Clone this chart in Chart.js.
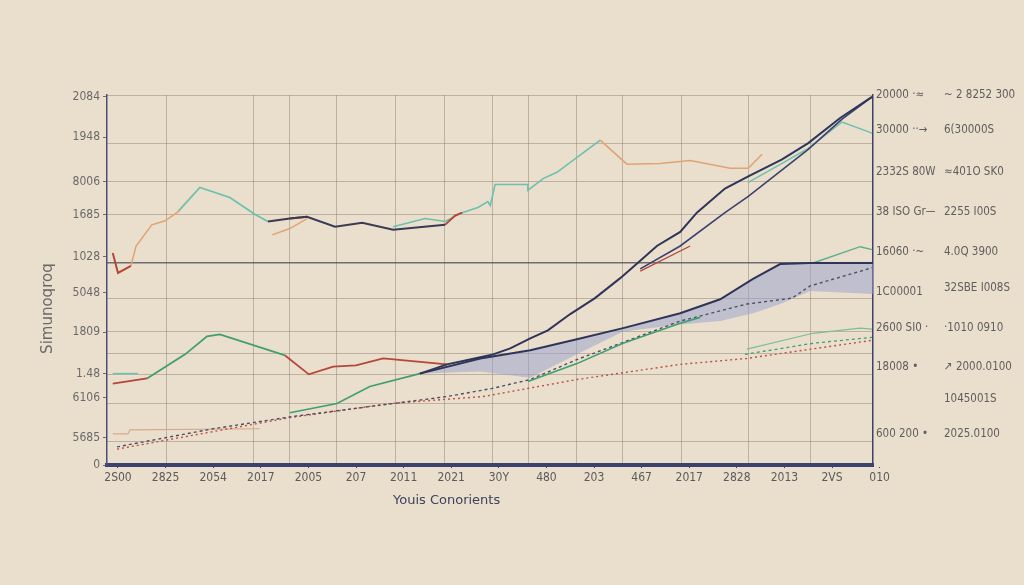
<!DOCTYPE html>
<html>
<head>
<meta charset="utf-8">
<script src="https://cdn.jsdelivr.net/npm/chart.js@4/dist/chart.umd.min.js"></script>
<style>
  html, body { margin: 0; padding: 0; background: #eadecc; }
  #wrap { width: 1024px; height: 585px; }
</style>
</head>
<body>
<div id="wrap"><canvas id="c" width="1024" height="585"></canvas></div>
<script>
// ---- categories / tick labels ----
const xLabels = ["2S00","2825","2054","2017","2005","207","2011","2021","30Y","480","203","467","2017","2828","2013","2VS","010"];
const leftTickValues = [99.5, 88.6, 76.6, 67.7, 56.3, 46.5, 35.9, 24.7, 18.2, 7.3, 0];
const leftTickLabels = ["2084","1948","8006","1685","1028","5048","1809","1.48","6106","5685","0"];
const rightTickValuesA = [100, 90.5, 79.3, 68.5, 57.6, 46.7, 37.0, 26.6, 17.7, 8.4];
const rightTickLabelsA = ["20000 \u00b7\u2248", "30000 \u00b7\u00b7\u2192", "2332S 80W", "38 ISO Gr\u2014", "16060 \u00b7~", "1C00001", "2600 SI0 \u00b7", "18008 \u2022", "", "600 200 \u2022"];
const rightTickValuesB = [100, 90.5, 79.3, 68.5, 57.6, 47.8, 37.0, 26.6, 17.7, 8.4];
const rightTickLabelsB = ["~ 2 8252 300", "6(30000S", "\u2248401O SK0", "2255 I00S", "4.0Q 3900", "32SBE I008S", "\u00b71010 0910", "\u2197 2000.0100", "1045001S", "2025.0100"];
const gridX = [1.01, 2.84, 3.61, 4.58, 5.82, 6.85, 7.86, 8.63, 9.64, 10.59, 11.83, 13.24, 14.54];
const gridY = [100, 87.0, 76.6, 67.7, 54.6, 45.1, 36.1, 30.2, 24.5, 16.6, 6.25];
const yTitle = "Simunoqroq";
const xTitle = "Youis Conorients";

// ---- series values (x = category position, y = value) ----
const navyAX = [6.34, 6.91, 7.61, 7.88, 8.24, 8.66, 9.03, 9.50, 10.02, 10.55, 10.97, 11.32, 11.81, 12.16, 12.75, 13.24, 13.95, 14.50, 15.17, 15.84];
const navyAY = [24.7, 27.2, 29.1, 29.9, 31.5, 34.2, 36.4, 40.8, 45.1, 50.5, 55.2, 59.2, 63.0, 68.2, 74.7, 78.0, 82.6, 87.0, 93.8, 99.5];
const navyBX = [10.97, 11.81, 12.75, 13.24, 14.50, 15.21, 15.84];
const navyBY = [53.0, 59.2, 68.2, 72.6, 85.3, 93.5, 99.5];
const navyCX = [6.34, 7.61, 8.66, 9.64, 10.61, 11.81, 12.65, 13.34, 13.91, 14.54, 15.86];
const navyCY = [24.7, 28.8, 31.0, 34.0, 37.0, 41.0, 44.8, 50.3, 54.3, 54.6, 54.6];
const bandLowY = [24.7, 25.3, 23.6, 29.9, 36.1, 38.0, 38.9, 41.0, 43.5, 47.0, 46.2];
const tealURX = [13.24, 13.95, 14.50, 15.21, 15.84];
const tealURY = [76.4, 81.5, 85.6, 92.7, 89.7];
const redURX = [10.97, 12.02];
const redURY = [52.4, 59.2];
const navyTopX = [3.15, 3.61, 3.97, 4.56, 5.13, 5.78, 6.87];
const navyTopY = [65.8, 66.6, 67.1, 64.4, 65.5, 63.6, 64.9];
const redTopX = [-0.11, 0, 0.27, 0.3, 3.61, 3.97, 4.0, 6.87, 7.08, 7.23];
const redTopY = [57.3, 51.9, 53.8, null, 66.6, 67.1, null, 64.9, 67.4, 68.2];
const orangeLX = [0.27, 0.38, 0.71, 0.99, 1.20, 1.30, 1.4, 3.24, 3.61, 3.97];
const orangeLY = [53.8, 59.2, 64.9, 66.0, 67.9, 68.8, null, 62.2, 63.9, 66.6];
const tealTopX = [1.26, 1.72, 2.35, 2.88, 3.15];
const tealTopY = [68.5, 75.0, 72.3, 67.7, 65.8];
const tealMidX = [5.78, 6.45, 6.87, 7.23, 7.56, 7.77, 7.82, 7.92, 8.61, 8.61, 8.93, 9.22, 10.13];
const tealMidY = [64.4, 66.6, 65.8, 68.2, 69.6, 71.2, 70.1, 75.8, 75.8, 74.2, 77.4, 79.1, 87.8];
const orangeRX = [10.13, 10.69, 11.39, 12.02, 12.86, 13.24, 13.53];
const orangeRY = [87.8, 81.3, 81.5, 82.3, 80.2, 80.2, 84.0];
const greenLLX = [0.61, 1.41, 1.87, 2.14, 3.51];
const greenLLY = [23.4, 29.9, 34.8, 35.3, 29.6];
const redLLX = [-0.11, 0.61, 1.0, 3.51, 4.01, 4.52, 5.0, 5.57, 6.91];
const redLLY = [22.0, 23.4, null, 29.6, 24.5, 26.6, 26.9, 28.8, 27.2];
const tealShortX = [-0.11, 0.42];
const tealShortY = [24.7, 24.7];
const greenRiseX = [3.61, 4.60, 5.29, 6.34, 7.0, 8.61, 9.64, 10.61, 11.81, 12.23];
const greenRiseY = [14.1, 16.6, 21.2, 24.7, null, 22.6, 27.4, 32.9, 38.3, 39.9];
const tealThinX = [13.21, 14.60, 15.59, 15.84];
const tealThinY = [31.3, 35.6, 37.0, 36.7];
const greenURX = [14.60, 15.59, 15.84];
const greenURY = [54.6, 59.0, 58.2];
const dashNavyX = [-0.02, 2.0, 3.61, 6.91, 7.86, 8.66, 9.64, 11.81, 13.21, 14.16, 14.54, 15.84];
const dashNavyY = [4.9, 9.8, 13.0, 18.5, 20.7, 23.1, 28.5, 38.9, 43.5, 45.1, 48.4, 53.3];
const dashGreenX = [13.17, 14.6, 15.84];
const dashGreenY = [29.9, 32.9, 34.5];
const dotRedX = [-0.02, 3.61, 5.71, 7.67, 9.64, 11.81, 13.21, 15.84];
const dotRedY = [4.3, 12.8, 16.6, 18.5, 23.1, 27.2, 28.8, 33.7];
const tanX = [-0.11, 0.21, 0.25, 2.98];
const tanY = [8.4, 8.4, 9.5, 9.8];

const pts = (xs, ys) => xs.map((x, i) => ({ x: x, y: ys[i] }));

const NAVY = '#2f3558', TEAL = '#6cc0ad', GREEN = '#3f9f6e', RED = '#b5463a', ORANGE = '#e2a373';
function line(data, color, width, dash) {
  return { data: data, borderColor: color, borderWidth: width, borderDash: dash || [], pointRadius: 0, fill: false, tension: 0, spanGaps: false };
}

const datasets = [
  line(pts(navyAX, navyAY), NAVY, 2),
  line(pts(navyBX, navyBY), '#3a4170', 1.6),
  line(pts(navyCX, navyCY), NAVY, 2),
  line(pts(tealURX, tealURY), TEAL, 1.5),
  line(pts(redURX, redURY), RED, 1.3),
  line(pts(navyTopX, navyTopY), '#3a3a55', 2),
  line(pts(redTopX, redTopY), RED, 2),
  line(pts(orangeLX, orangeLY), ORANGE, 1.5),
  line(pts(tealTopX, tealTopY), TEAL, 1.8),
  line(pts(tealMidX, tealMidY), TEAL, 1.6),
  line(pts(orangeRX, orangeRY), ORANGE, 1.6),
  line(pts(greenLLX, greenLLY), GREEN, 1.8),
  line(pts(redLLX, redLLY), RED, 1.8),
  line(pts(tealShortX, tealShortY), TEAL, 1.5),
  line(pts(greenRiseX, greenRiseY), GREEN, 1.6),
  line(pts(tealThinX, tealThinY), '#7cbf94', 1.2),
  line(pts(greenURX, greenURY), '#5fb08a', 1.4),
  line(pts(dashNavyX, dashNavyY), '#4a4f6a', 1.4, [3, 3]),
  line(pts(dashGreenX, dashGreenY), GREEN, 1.3, [3, 3]),
  line(pts(dotRedX, dotRedY), '#c0503f', 1.4, [2, 3]),
  line(pts(tanX, tanY), '#d9a88a', 1.2),
  { data: pts(navyCX, bandLowY), borderWidth: 0, borderColor: 'rgba(0,0,0,0)', pointRadius: 0,
    backgroundColor: 'rgba(150,160,208,0.5)', fill: 2, tension: 0 }
];

const FONT = "'Liberation Sans Narrow', 'DejaVu Sans Condensed', 'Liberation Sans', sans-serif";
const TFONT = "'DejaVu Sans', sans-serif";
const setTicks = (vals) => (scale) => { scale.ticks = vals.map(v => ({ value: v })); };

new Chart(document.getElementById('c'), {
  type: 'line',
  data: { datasets: datasets },
  options: {
    responsive: false,
    animation: false,
    devicePixelRatio: 1,
    layout: { padding: { left: 35, right: 3, top: 95, bottom: 77 } },
    plugins: { legend: { display: false }, tooltip: { enabled: false } },
    scales: {
      x: {
        type: 'linear', position: 'bottom', min: -0.231, max: 15.86,
        afterBuildTicks: setTicks(xLabels.map((_, i) => i)),
        ticks: { autoSkip: false, maxRotation: 0, color: '#5b5b5b', font: { family: FONT, size: 12 }, padding: 3,
                 callback: (v, i) => xLabels[i] },
        grid: { drawOnChartArea: false, tickLength: 3, color: '#3b4270' },
        border: { color: '#3b4270', width: 4 },
        title: { display: true, text: xTitle + '\u00a0'.repeat(21), color: '#3d4260',
                 font: { family: TFONT, size: 13 }, padding: { top: 4, bottom: 0 } }
      },
      xg: {
        type: 'linear', position: 'top', min: -0.231, max: 15.86,
        afterBuildTicks: setTicks(gridX),
        ticks: { display: false },
        grid: { drawTicks: false, color: 'rgba(120,105,90,0.38)', lineWidth: 1 },
        border: { display: false }
      },
      y: {
        type: 'linear', position: 'left', min: 0, max: 100,
        afterBuildTicks: setTicks(leftTickValues),
        afterFit: (s) => { s.width = 72; },
        ticks: { color: '#6a6a6a', font: { family: FONT, size: 12 }, padding: 3,
                 callback: (v, i) => leftTickLabels[i] },
        grid: { drawOnChartArea: false, tickLength: 4, color: '#6a6a7a' },
        border: { color: '#4a5078', width: 1.5 },
        title: { display: true, text: yTitle + '\u00a0'.repeat(12), color: '#6a6a6a',
                 font: { family: TFONT, size: 15 }, padding: { top: 4, bottom: 4 } }
      },
      yg: {
        type: 'linear', position: 'left', min: 0, max: 100,
        afterBuildTicks: setTicks(gridY),
        afterFit: (s) => { s.width = 0; },
        ticks: { display: false },
        grid: { drawTicks: false,
                color: (ctx) => (ctx.tick && ctx.tick.value === 54.6) ? 'rgba(70,70,85,0.75)' : 'rgba(120,105,90,0.38)',
                lineWidth: (ctx) => (ctx.tick && ctx.tick.value === 54.6) ? 1.6 : 1 },
        border: { display: false }
      },
      yR1: {
        type: 'linear', position: 'right', min: 0, max: 100,
        afterBuildTicks: setTicks(rightTickValuesA),
        afterFit: (s) => { s.width = 62; },
        ticks: { color: '#5e5e5e', font: { family: FONT, size: 11.5 }, padding: 3,
                 callback: (v, i) => rightTickLabelsA[i] },
        grid: { drawOnChartArea: false, drawTicks: false },
        border: { color: '#3b4270', width: 1.5 }
      },
      yR2: {
        type: 'linear', position: 'right', min: 0, max: 100,
        afterBuildTicks: setTicks(rightTickValuesB),
        afterFit: (s) => { s.width = 86; },
        ticks: { color: '#5e5e5e', font: { family: FONT, size: 11.5 }, padding: 1,
                 callback: (v, i) => rightTickLabelsB[i] },
        grid: { display: false },
        border: { display: false }
      }
    }
  }
});
</script>
</body>
</html>
